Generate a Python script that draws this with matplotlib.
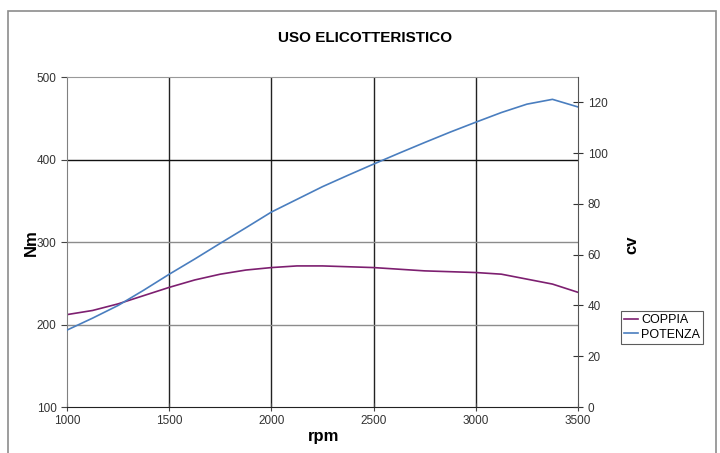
import matplotlib
matplotlib.use("Agg")
import matplotlib.pyplot as plt
from matplotlib.patches import Rectangle

plt.rcParams['font.family'] = ['Liberation Sans', 'DejaVu Sans']

rpm = [1000, 1125, 1250, 1375, 1500, 1625, 1750, 1875, 2000, 2125, 2250, 2375, 2500,
       2625, 2750, 2875, 3000, 3125, 3250, 3375, 3500]
coppia = [212, 217, 225, 235, 245, 254, 261, 266, 269, 271, 271, 270, 269,
          267, 265, 264, 263, 261, 255, 249, 239]
potenza = [30.3, 35.0, 40.0, 46.0, 52.3, 58.3, 64.5, 70.6, 76.8, 81.8, 86.8, 91.3, 95.7,
           100.0, 104.2, 108.3, 112.2, 116.0, 119.3, 121.2, 118.2]

xticks = [1000, 1500, 2000, 2500, 3000, 3500]
nm_ticks = [100, 200, 300, 400, 500]
cv_ticks = [0, 20, 40, 60, 80, 100, 120]

W, H = 720, 453
fig = plt.figure(figsize=(7.2, 4.53), dpi=100)
fig.patches.append(Rectangle((8/W, -0.01), (716-8)/W, 1.01 - 11/H, transform=fig.transFigure,
                             fill=False, edgecolor='#8c8c8c', linewidth=1.2))

ax = fig.add_axes([67/W, 1 - 407/H, (578-67)/W, (407-77)/H])
ax2 = ax.twinx()

l1, = ax.plot(rpm, coppia, color='#7d1f70', linewidth=1.2, label='COPPIA')
l2, = ax2.plot(rpm, potenza, color='#4a7ebf', linewidth=1.2, label='POTENZA')

ax.set_xlim(1000, 3500)
ax.set_ylim(100, 500)
ax2.set_ylim(0, 130)
ax.set_xticks(xticks)
ax.set_yticks(nm_ticks)
ax2.set_yticks(cv_ticks)

for x in xticks[1:-1]:
    ax.axvline(x, color='#222222', linewidth=1.0, zorder=0)
for y, c in [(200, '#8c8c8c'), (300, '#8c8c8c'), (400, '#111111')]:
    ax.axhline(y, color=c, linewidth=1.0, zorder=0)

for a in (ax, ax2):
    for s in a.spines.values():
        s.set_visible(False)
ax.spines['left'].set_visible(True)
ax.spines['left'].set_color('#808080')
ax.spines['bottom'].set_visible(True)
ax.spines['bottom'].set_color('#222222')
ax2.spines['right'].set_visible(True)
ax2.spines['right'].set_color('#555555')
ax.spines['top'].set_visible(True)
ax.spines['top'].set_color('#999999')

ax.tick_params(axis='both', labelsize=8.5, labelcolor='#333333', color='#444444', length=4)
ax.tick_params(axis='x', direction='inout', length=6, pad=3)
ax2.tick_params(axis='y', labelsize=8.5, labelcolor='#333333', color='#333333',
                direction='inout', length=7)

fig.text(31/W, 1 - 243/H, 'Nm', rotation=90, ha='center', va='center',
         fontsize=12, fontweight='bold')
fig.text(632/W, 1 - 245/H, 'cv', rotation=90, ha='center', va='center',
         fontsize=12, fontweight='bold')
fig.text(324/W, 1 - 437/H, 'rpm', ha='center', va='center',
         fontsize=12, fontweight='bold')
fig.text(365/W, 1 - 38/H, 'USO ELICOTTERISTICO', ha='center', va='center',
         fontsize=11, fontweight='bold')

leg = fig.legend([l1, l2], ['COPPIA', 'POTENZA'], loc='upper left',
                 bbox_to_anchor=(621/W, 1 - 311/H), fontsize=9, frameon=True,
                 fancybox=False, edgecolor='#333333', handlelength=1.1, handletextpad=0.25,
                 borderpad=0.25, labelspacing=0.2, borderaxespad=0)
leg.get_frame().set_linewidth(0.8)

fig.savefig('out.png', dpi=100)
